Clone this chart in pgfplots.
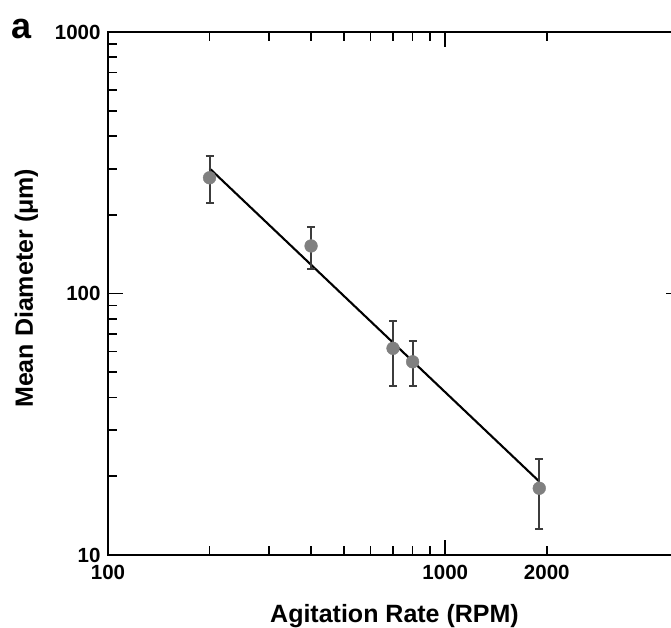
\documentclass[border=0pt]{standalone}
\usepackage{fontspec}
\setmainfont{Liberation Sans}
\usepackage{pgfplots}
\usepackage{pgfplotstable}
\pgfplotsset{compat=1.18}
\definecolor{dotgray}{HTML}{808080}
\definecolor{bargray}{HTML}{3C3C3C}

% x = agitation rate (RPM), y = mean diameter (um), yp/ym = error bar up/down
\pgfplotstableread{
x    y     yp   ym
200  277   59   56
400  152   27   28
700  61.7  17   17.4
800  54.8  11   10.7
1900 18.0  5.2  5.4
}\diamdata

\begin{document}
\begin{tikzpicture}
\begin{axis}[
    at={(108pt,73pt)}, anchor=south west,
    scale only axis,
    width=573pt, height=523pt,
    xmode=log, ymode=log,
    xmin=100, xmax=5000,
    ymin=10, ymax=1000,
    xtick={100,1000}, xticklabels={100,1000},
    ytick={10,100,1000}, yticklabels={10,100,1000},
    extra x ticks={2000}, extra x tick labels={2000},
    extra x tick style={major tick length=9pt},
    tick align=inside,
    major tick length=15pt, minor tick length=9pt,
    tick style={black, line width=1.8pt},
    axis line style={line width=1.9pt},
    ticklabel style={font=\fontsize{20.5}{24}\selectfont\bfseries},
    /pgf/number format/assume math mode=true,
    xticklabel style={yshift=-7pt},
    yticklabel style={xshift=-4pt},
    xlabel={Agitation Rate (RPM)},
    ylabel={Mean Diameter (μm)},
    label style={font=\fontsize{25}{29}\selectfont\bfseries},
    xlabel style={at={(axis description cs:0.5,-0.130)}, anchor=base},
    ylabel style={at={(axis description cs:-0.1309,0.51)}, anchor=base},
    clip=false,
]
\addplot[black, line width=2.1pt] coordinates {(200,301) (1900,19.1)};
\addplot[only marks, mark=*, mark size=6.4pt,
    mark options={fill=dotgray, draw=dotgray},
    error bars/.cd, y dir=both, y explicit,
    error bar style={bargray, line width=2pt},
    error mark options={rotate=90, bargray, line width=2pt, mark size=4pt}]
    table[x=x, y=y, y error plus=yp, y error minus=ym] {\diamdata};
\end{axis}
\node[anchor=base west, font=\fontsize{36}{40}\selectfont\bfseries, inner sep=0pt] at (11pt,589pt) {a};
\pgfresetboundingbox
\useasboundingbox (0,0) rectangle (671pt,628pt);
\end{tikzpicture}
\end{document}
